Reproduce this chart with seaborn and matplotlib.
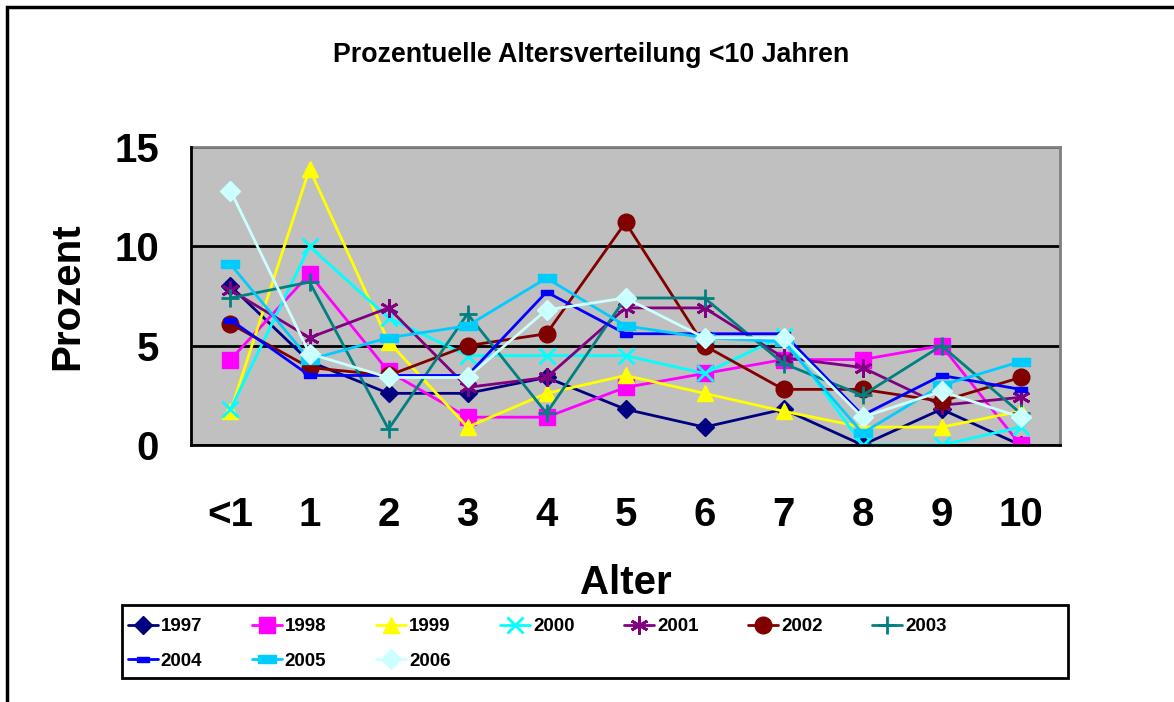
import matplotlib
matplotlib.use("Agg")
import matplotlib.pyplot as plt
import matplotlib.patches as mpatches
import numpy as np
import pandas as pd
import seaborn as sns

categories = ["<1", "1", "2", "3", "4", "5", "6", "7", "8", "9", "10"]

y1997 = [8.0, 4.2, 2.6, 2.6, 3.4, 1.8, 0.9, 1.8, 0.0, 1.8, 0.0]
y1998 = [4.3, 8.6, 3.7, 1.4, 1.4, 2.9, 3.6, 4.3, 4.3, 5.0, 0.0]
y1999 = [1.7, 13.9, 5.2, 0.9, 2.6, 3.5, 2.6, 1.7, 0.9, 0.9, 1.7]
y2000 = [1.8, 10.0, 6.4, 4.5, 4.5, 4.5, 3.6, 5.5, 0.0, 0.0, 0.9]
y2001 = [7.8, 5.4, 6.9, 2.9, 3.4, 6.9, 6.9, 4.4, 3.9, 2.0, 2.4]
y2002 = [6.1, 3.9, 3.5, 5.0, 5.6, 11.2, 5.0, 2.8, 2.8, 2.2, 3.4]
y2003 = [7.4, 8.2, 0.8, 6.6, 1.6, 7.4, 7.4, 4.1, 2.5, 5.0, 1.6]
y2004 = [6.3, 3.5, 3.5, 3.5, 7.7, 5.6, 5.6, 5.6, 1.5, 3.5, 2.8]
y2005 = [9.1, 4.3, 5.4, 6.0, 8.4, 6.0, 5.4, 5.2, 0.6, 3.0, 4.2]
y2006 = [12.8, 4.6, 3.4, 3.4, 6.8, 7.4, 5.4, 5.4, 1.4, 2.7, 1.4]

years = ["1997", "1998", "1999", "2000", "2001", "2002", "2003", "2004", "2005", "2006"]
values = [y1997, y1998, y1999, y2000, y2001, y2002, y2003, y2004, y2005, y2006]
colors = ["#000080", "#FF00FF", "#FFFF00", "#00FFFF", "#800080",
          "#800000", "#008080", "#0000FF", "#00CCFF", "#CCFFFF"]

# flat bar marker for 2004 / 2005
bar = [(-1, -0.4), (1, -0.4), (1, 0.4), (-1, 0.4), (-1, -0.4)]
markers = ["D", "s", "^", "x", (6, 2, 0), "o", "+", bar, bar, "D"]
msizes = [9, 11, 12, 11, 13, 12, 13, 9, 13, 10]

rows = []
for year, vals in zip(years, values):
    for i, v in enumerate(vals):
        rows.append({"Jahr": year, "pos": i, "Prozent": v})
df = pd.DataFrame(rows)

sns.set_style("white")
plt.rcParams["font.family"] = ["Liberation Sans", "DejaVu Sans"]
plt.rcParams["font.weight"] = "bold"
plt.rcParams["text.color"] = "black"
plt.rcParams["xtick.color"] = "black"
plt.rcParams["ytick.color"] = "black"
plt.rcParams["axes.labelcolor"] = "black"

fig = plt.figure(figsize=(11.74, 7.02), dpi=100)
ax = fig.add_axes([191 / 1174, (702 - 445) / 702, 869 / 1174, 298 / 702])
ax.set_facecolor("#C0C0C0")

for year, color, m, ms in zip(years, colors, markers, msizes):
    sub = df[df["Jahr"] == year]
    mew = 2 if m in ("x", "+") or m == (6, 2, 0) else 1
    sns.lineplot(data=sub, x="pos", y="Prozent", ax=ax, color=color,
                 marker=m, markersize=ms, linewidth=2, label=year,
                 markeredgecolor=color, markerfacecolor=color,
                 markeredgewidth=mew, zorder=3)

ax.set_xlim(-0.5, 10.5)
ax.set_ylim(0, 15)
ax.set_yticks([0, 5, 10, 15])
ax.set_yticklabels(["0", "5", "10", "15"], fontsize=29, fontweight="bold")
ax.set_xticks(range(len(categories)))
ax.set_xticklabels(categories, fontsize=29, fontweight="bold")
ax.set_xticks(np.arange(-0.5, 11, 1), minor=True)
ax.tick_params(axis="x", which="major", length=0, pad=37)
ax.tick_params(axis="x", which="minor", length=10, width=2, direction="out", color="black")
ax.tick_params(axis="y", which="major", length=10, width=2, direction="out", color="black", pad=13)
ax.yaxis.grid(True, color="black", linewidth=2)
ax.set_axisbelow(True)

for side in ("top", "right"):
    ax.spines[side].set_color("#808080")
    ax.spines[side].set_linewidth(2)
for side in ("left", "bottom"):
    ax.spines[side].set_color("black")
    ax.spines[side].set_linewidth(2)
    ax.spines[side].set_zorder(5)

ax.set_xlabel("Alter", fontsize=29, fontweight="bold", labelpad=21)
ax.set_ylabel("Prozent", fontsize=29, fontweight="bold", labelpad=20)

fig.text(591 / 1174, 1 - 55 / 702, "Prozentuelle Altersverteilung <10 Jahren",
         ha="center", va="center", fontsize=19.3, fontweight="bold")

handles, labels = ax.get_legend_handles_labels()
ax.get_legend().remove()
# reorder so the column-wise fill reads row by row
order = [0, 7, 1, 8, 2, 9, 3, 4, 5, 6]
leg = fig.legend([handles[i] for i in order], [labels[i] for i in order],
                 ncol=7, loc="upper left",
                 bbox_to_anchor=(128 / 1174, 1 - 618 / 702),
                 frameon=False, prop={"size": 13.5, "weight": "bold"},
                 handlelength=1.6, handletextpad=0.15, borderpad=0,
                 borderaxespad=0, columnspacing=2.65, labelspacing=0.92)

fig.patches.append(mpatches.Rectangle((122 / 1174, 24 / 702), 946 / 1174, 73 / 702,
                                      transform=fig.transFigure, fill=False,
                                      edgecolor="black", linewidth=2))
fig.patches.append(mpatches.Rectangle((7 / 1174, -0.1), 1.1, 1 - 7 / 702 + 0.1,
                                      transform=fig.transFigure, fill=False,
                                      edgecolor="black", linewidth=2.5))

fig.savefig("out.png", dpi=100)
plt.close(fig)
